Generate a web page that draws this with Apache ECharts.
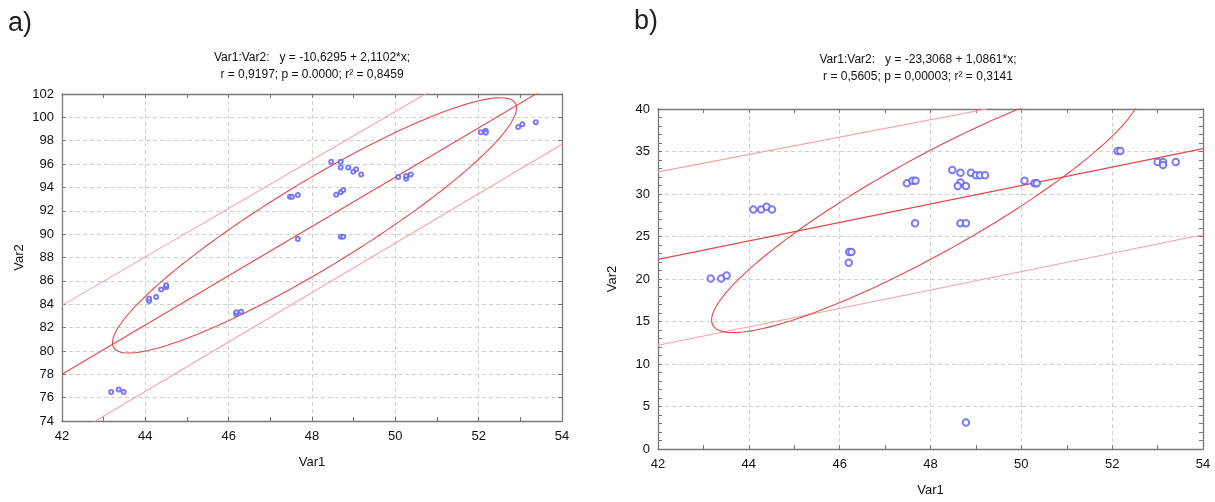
<!DOCTYPE html>
<html>
<head>
<meta charset="utf-8">
<script src="https://cdn.jsdelivr.net/npm/echarts@6/dist/echarts.min.js"></script>
<style>
html, body { margin: 0; padding: 0; background: #fff; }
#main { width: 1215px; height: 502px; }
</style>
</head>
<body>
<div id="main"></div>
<script>
// a) Var1 / Var2
var a_var1 = [43.18, 43.36, 43.48, 44.09, 44.09, 44.26, 44.38, 44.50, 44.50, 46.18, 46.18, 46.30,
	47.47, 47.52, 47.66, 47.66, 48.46, 48.58, 48.69, 48.69, 48.69, 48.69, 48.75, 48.75, 48.87,
	48.99, 49.06, 49.18, 50.07, 50.26, 50.26, 50.37, 52.05, 52.17, 52.17, 52.95, 53.05, 53.37];
var a_var2 = [76.49, 76.69, 76.49, 84.28, 84.50, 84.62, 85.25, 85.45, 85.62, 83.14, 83.31, 83.36,
	93.21, 93.21, 93.35, 89.59, 96.20, 93.38, 96.20, 95.70, 93.58, 89.78, 93.78, 89.78, 95.70,
	95.35, 95.55, 95.10, 94.90, 94.75, 94.98, 95.10, 98.72, 98.86, 98.69, 99.17, 99.40, 99.58];
var a_intercept = -10.6295;
var a_slope = 2.1102;
var a_band_x = [42, 54];
var a_upper = [83.9, 108.8];
var a_lower = [72.3, 97.7];
// ellipse: mean x, mean y, half range x, half range y, correlation
var a_ellipse = [48.06, 90.75, 4.85, 10.93, 0.9197];

// b) Var1 / Var2
var b_var1 = [43.16, 43.39, 43.51, 44.10, 44.27, 44.39, 44.51, 46.20, 46.21, 46.26, 47.48, 47.60,
	47.67, 47.66, 48.48, 48.66, 48.66, 48.60, 48.78, 48.89, 49.00, 49.09, 49.20, 48.66, 48.78,
	48.78, 50.07, 50.29, 50.34, 52.12, 52.18, 53.00, 53.12, 53.12, 53.40];
var b_var2 = [20.05, 20.05, 20.40, 28.17, 28.17, 28.50, 28.17, 21.90, 23.17, 23.17, 31.26, 31.57,
	31.57, 26.57, 32.83, 32.50, 31.34, 30.95, 30.95, 32.50, 32.20, 32.20, 32.20, 26.57, 26.57,
	3.13, 31.57, 31.26, 31.26, 35.05, 35.05, 33.76, 33.76, 33.40, 33.76];
var b_intercept = -23.3068;
var b_slope = 1.0861;
var b_band_x = [42, 54];
var b_upper = [32.6, 44.87];
var b_lower = [12.2, 25.2];
var b_ellipse = [47.9, 28.45, 4.72, 14.75, 0.9];

var blue = '#5c5cf6';
var red = '#e44848';
var light_red = '#f3a3a3';
var axis_color = '#777';
var label_font = 'Liberation Sans, Arial, sans-serif';

function pairs(xs, ys){
	var arr = [];
	for(var i = 0; i < xs.length; i++){
		arr.push([xs[i], ys[i]]);
	}
	return arr;
}

function reg_line(b0, b1, xs){
	return [[xs[0], b0 + b1 * xs[0]], [xs[1], b0 + b1 * xs[1]]];
}

function ellipse_points(e){
	var pts = [];
	for(var i = 0; i <= 240; i++){
		var t = i / 240 * 2 * Math.PI;
		pts.push([e[0] + e[2] * Math.cos(t),
			e[1] + e[3] * (e[4] * Math.cos(t) + Math.sqrt(1 - e[4] * e[4]) * Math.sin(t))]);
	}
	return pts;
}

function x_axis(grid, pos, min, max, show_label){
	return {
		type: 'value', gridIndex: grid, position: pos,
		min: min, max: max, interval: 2,
		name: show_label ? 'Var1' : '', nameLocation: 'middle', nameGap: 35,
		nameTextStyle: {color: '#111', fontSize: 13, fontFamily: label_font},
		axisLine: {show: true, onZero: false, lineStyle: {color: axis_color, width: 1.3}},
		axisTick: {show: true, inside: true, length: 4, lineStyle: {color: axis_color}},
		minorTick: {show: true, splitNumber: 2, length: 4, lineStyle: {color: axis_color}},
		axisLabel: {show: show_label, color: '#111', fontSize: 13, margin: 9, fontFamily: label_font},
		splitLine: {show: show_label, lineStyle: {color: '#d0d0d0', type: [4, 3]}}
	};
}

function y_axis(grid, pos, min, max, step, minor, show_label, gap){
	return {
		type: 'value', gridIndex: grid, position: pos,
		min: min, max: max, interval: step,
		name: show_label ? 'Var2' : '', nameLocation: 'middle', nameGap: gap,
		nameTextStyle: {color: '#111', fontSize: 13, fontFamily: label_font},
		axisLine: {show: true, onZero: false, lineStyle: {color: axis_color, width: 1.3}},
		axisTick: {show: true, inside: true, length: 4, lineStyle: {color: axis_color}},
		minorTick: {show: minor > 0, splitNumber: minor || 1, length: 4, lineStyle: {color: axis_color}},
		axisLabel: {show: show_label, color: '#111', fontSize: 13, margin: 8, fontFamily: label_font},
		splitLine: {show: show_label, lineStyle: {color: '#d0d0d0', type: [4, 3]}}
	};
}

function line_series(xi, yi, data, color, z){
	return {
		type: 'line', xAxisIndex: xi, yAxisIndex: yi, data: data,
		showSymbol: false, symbol: 'none', silent: true, z: z,
		lineStyle: {color: color, width: 1.1}
	};
}

var chart = echarts.init(document.getElementById('main'));
var option = {
	animation: false,
	backgroundColor: '#fff',
	grid: [
		{left: 62, top: 94, width: 500, height: 327},
		{left: 658, top: 109, width: 545, height: 341}
	],
	xAxis: [
		x_axis(0, 'bottom', 42, 54, true),
		x_axis(0, 'top', 42, 54, false),
		x_axis(1, 'bottom', 42, 54, true),
		x_axis(1, 'top', 42, 54, false)
	],
	yAxis: [
		y_axis(0, 'left', 74, 102, 2, 0, true, 36),
		y_axis(0, 'right', 74, 102, 2, 0, false, 0),
		y_axis(1, 'left', 0, 40, 5, 5, true, 39),
		y_axis(1, 'right', 0, 40, 5, 5, false, 0)
	],
	graphic: [
		{type: 'text', left: 8, top: 10, style: {text: 'a)', fontSize: 27, fill: '#222', fontFamily: label_font}},
		{type: 'text', left: 634, top: 8, style: {text: 'b)', fontSize: 27, fill: '#222', fontFamily: label_font}},
		{type: 'text', x: 312, y: 58, style: {text: 'Var1:Var2:   y = -10,6295 + 2,1102*x;', fontSize: 12,
			fill: '#111', fontFamily: label_font, align: 'center', verticalAlign: 'middle'}},
		{type: 'text', x: 312, y: 75, style: {text: 'r = 0,9197; p = 0.0000; r\u00b2 = 0,8459', fontSize: 12,
			fill: '#111', fontFamily: label_font, align: 'center', verticalAlign: 'middle'}},
		{type: 'text', x: 918, y: 60, style: {text: 'Var1:Var2:   y = -23,3068 + 1,0861*x;', fontSize: 12,
			fill: '#111', fontFamily: label_font, align: 'center', verticalAlign: 'middle'}},
		{type: 'text', x: 918, y: 77, style: {text: 'r = 0,5605; p = 0,00003; r\u00b2 = 0,3141', fontSize: 12,
			fill: '#111', fontFamily: label_font, align: 'center', verticalAlign: 'middle'}}
	],
	series: [
		line_series(0, 0, pairs(a_band_x, a_upper), light_red, 2),
		line_series(0, 0, pairs(a_band_x, a_lower), light_red, 2),
		line_series(0, 0, reg_line(a_intercept, a_slope, a_band_x), red, 3),
		line_series(0, 0, ellipse_points(a_ellipse), red, 3),
		{
			type: 'scatter', xAxisIndex: 0, yAxisIndex: 0, data: pairs(a_var1, a_var2),
			symbol: 'emptyCircle', symbolSize: 4, z: 5,
			itemStyle: {color: blue, borderColor: blue, borderWidth: 0.9}
		},
		line_series(2, 2, pairs(b_band_x, b_upper), light_red, 2),
		line_series(2, 2, pairs(b_band_x, b_lower), light_red, 2),
		line_series(2, 2, reg_line(b_intercept, b_slope, b_band_x), red, 3),
		line_series(2, 2, ellipse_points(b_ellipse), red, 3),
		{
			type: 'scatter', xAxisIndex: 2, yAxisIndex: 2, data: pairs(b_var1, b_var2),
			symbol: 'emptyCircle', symbolSize: 6.5, z: 5,
			itemStyle: {color: blue, borderColor: blue, borderWidth: 0.9}
		}
	]
};
chart.setOption(option);
window.addEventListener('resize', function(){
	chart.resize();
});
</script>
</body>
</html>
